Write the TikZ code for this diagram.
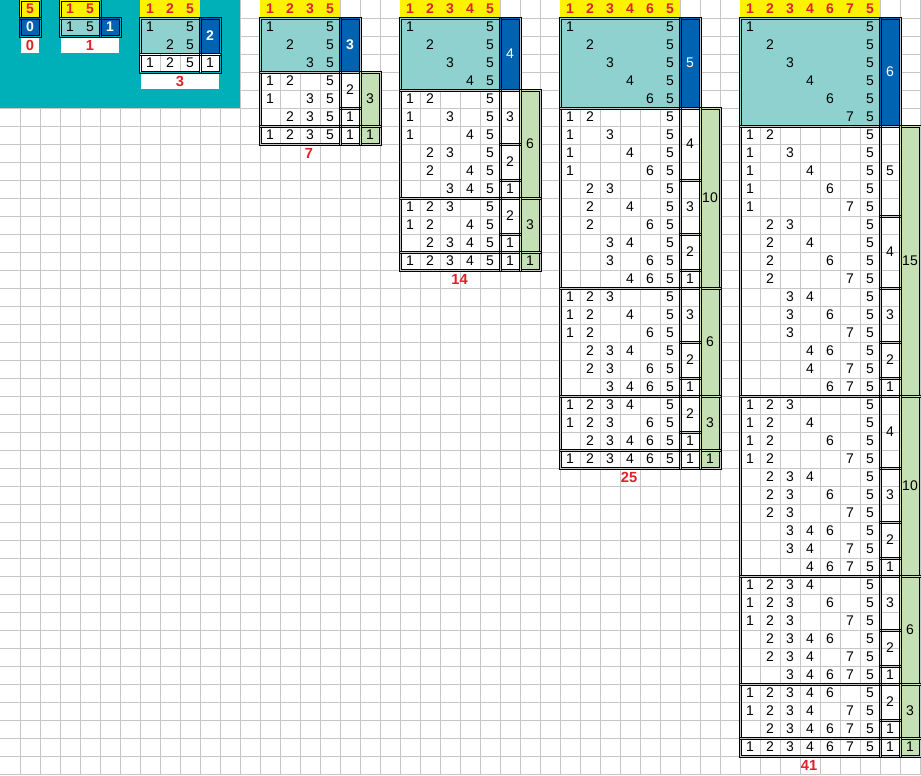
\documentclass[tikz,border=0pt]{standalone}
\usepackage{fontspec}
\setmainfont{Liberation Sans}
\usetikzlibrary{calc}
\definecolor{sheetteal}{RGB}{0,176,185}
\definecolor{cellteal}{RGB}{142,209,207}
\definecolor{cellblue}{RGB}{0,99,177}
\definecolor{cellyellow}{RGB}{255,242,0}
\definecolor{cellgreen}{RGB}{197,224,180}
\definecolor{numred}{RGB}{226,32,40}
\definecolor{gridgray}{RGB}{198,198,198}
\newcount\xlrow
% double black border round a block of cells
\newcommand\xlframe[2]{%
  \draw[xl frame] ($#1+(-0.8pt,0.8pt)$) rectangle ($#2+(0.8pt,-0.8pt)$);
  \draw[xl frame] ($#1+(0.8pt,-0.8pt)$) rectangle ($#2+(-0.8pt,0.8pt)$);}
% white label strip under the small blocks
\newcommand\xlnote[2]{\fill[white] ($#1+(0.75pt,-1.2pt)$) rectangle ($#2+(-0.75pt,0.9pt)$);}
\tikzset{
  xl sheet/.style={x=15pt, y=-13.5pt, font=\fontsize{10.5}{12}\selectfont},
  xl grid/.style={draw=gridgray, line width=0.6pt},
  xl frame/.style={draw=black, line width=0.6pt},
  xl v/.style={inner sep=0pt, text=black},
  xl hdr/.style={inner sep=0pt, text=numred, font=\fontsize{10.5}{12}\selectfont\bfseries},
  xl cnt/.style={inner sep=0pt, text=white, font=\fontsize{10.5}{12}\selectfont\bfseries},
  xl tot/.style={xl hdr, font=\fontsize{11}{12}\selectfont\bfseries},
}
\begin{document}
\begin{tikzpicture}[xl sheet]
\path[fill=white, use as bounding box] (0,0) rectangle (46.05,43.056);
% ---- sheet grid ----
\foreach \c in {1,...,46} \draw[xl grid] (\c,0) -- (\c,43.056);
\foreach \r in {1,...,43} \draw[xl grid] (0,\r) -- (46.05,\r);
\fill[sheetteal] (0,0) rectangle (12,6);
% ---- n = 1 ----
\fill[cellyellow] (1,0) rectangle (2,1);
\fill[cellblue] (1,1) rectangle (2,2);
\xlnote{(1,2)}{(2,3)}
\xlframe{(1,0)}{(2,1)} \xlframe{(1,1)}{(2,2)}
\node[xl hdr] (h0-1) at (1.5,0.5) {5};
\node[xl cnt] (b0) at (1.5,1.5) {0};
\node[xl tot] (t0) at (1.5,2.5) {0};
% ---- n = 2 ----
\fill[cellyellow] (3,0) rectangle (5,1);
\fill[cellteal] (3,1) rectangle (5,2);
\fill[cellblue] (5,1) rectangle (6,2);
\xlnote{(3,2)}{(6,3)}
\xlframe{(3,0)}{(5,1)} \xlframe{(3,1)}{(5,2)} \xlframe{(5,1)}{(6,2)}
\node[xl hdr] (h1-1) at (3.5,0.5) {1};  \node[xl hdr] (h1-5) at (4.5,0.5) {5};
\node[xl v] (s1-1) at (3.5,1.5) {1};    \node[xl v] (s1-5) at (4.5,1.5) {5};
\node[xl cnt] (b1) at (5.5,1.5) {1};
\node[xl tot] (t1) at (4.5,2.5) {1};
% ---- n = 3 ----
\fill[cellyellow] (7,0) rectangle (10,1);
\fill[cellteal] (7,1) rectangle (10,3);
\fill[cellblue] (10,1) rectangle (11,3);
\fill[white] (7,3) rectangle (11,4);
\draw[xl grid] (8,3) -- (8,4) (9,3) -- (9,4);
\xlnote{(7,4)}{(11,5)}
\xlframe{(7,1)}{(10,3)} \xlframe{(10,1)}{(11,3)}
\xlframe{(7,3)}{(10,4)} \xlframe{(10,3)}{(11,4)}
\node[xl hdr] (h2-1) at (7.5,0.5) {1}; \node[xl hdr] (h2-2) at (8.5,0.5) {2}; \node[xl hdr] (h2-5) at (9.5,0.5) {5};
\node[xl v] (s2-1) at (7.5,1.5) {1};   \node[xl v] (s2-1-5) at (9.5,1.5) {5};
\node[xl v] (s2-2) at (8.5,2.5) {2};   \node[xl v] (s2-2-5) at (9.5,2.5) {5};
\node[xl cnt] (b2) at (10.5,2) {2};
\node[xl v] (f2-1) at (7.5,3.5) {1}; \node[xl v] (f2-2) at (8.5,3.5) {2}; \node[xl v] (f2-5) at (9.5,3.5) {5};
\node[xl v] (c2) at (10.5,3.5) {1};
\node[xl tot] (t2) at (9,4.5) {3};
% ---- n = 4 ... 7 ----
\foreach \lc/\m/\tot/\tx/\bw in {13/3/7/15.45/\bfseries, 20/4/14/22.98/\mdseries,
                                 28/5/25/31.45/\mdseries, 37/6/41/40.45/\mdseries}{
  \pgfmathtruncatemacro\colF{\lc+\m}
  \pgfmathtruncatemacro\colC{\lc+\m+1}
  \pgfmathtruncatemacro\colG{\lc+\m+2}
  % header and one-element rows
  \fill[cellyellow] (\lc,0) rectangle (\colC,1);
  \fill[cellteal] (\lc,1) rectangle (\colC,\m+1);
  \fill[cellblue] (\colC,1) rectangle (\colG,\m+1);
  \xlframe{(\lc,1)}{(\colC,\m+1)}
  \xlframe{(\colC,1)}{(\colG,\m+1)}
  \node[xl cnt, font=\fontsize{10.5}{12}\selectfont\bw] (b\m) at (\colC+0.5,\m/2+1) {\m};
  \node[xl hdr] (h\m-5) at (\colF+0.5,0.5) {5};
  \foreach \p in {1,...,\m}{
    \pgfmathtruncatemacro\lab{\p<5 ? \p : \p+1}
    \node[xl hdr] (h\m-\p) at (\lc+\p-0.5,0.5) {\lab};
    \node[xl v] (s\m-\p) at (\lc+\p-0.5,\p+0.5) {\lab};
    \node[xl v] (s\m-\p-5) at (\colF+0.5,\p+0.5) {5};
  }
  % rows of k elements, grouped by their first element
  \global\xlrow=\m \global\advance\xlrow by 1
  \foreach \k in {2,...,\m}{
    \pgfmathtruncatemacro\nG{\m-\k+1}
    \pgfmathtruncatemacro\nT{\nG*(\nG+1)/2}
    \pgfmathtruncatemacro\rs{\the\xlrow}
    \fill[cellgreen] (\colG,\rs) rectangle (\colG+1,\rs+\nT);
    \xlframe{(\lc,\rs)}{(\colC,\rs+\nT)}
    \xlframe{(\colG,\rs)}{(\colG+1,\rs+\nT)}
    \node[xl v] (g\m-\k) at (\colG+0.5,\rs+\nT/2) {\nT};
    \foreach \s in {1,...,\nG}{
      \pgfmathtruncatemacro\ng{\nG-\s+1}
      \pgfmathtruncatemacro\rg{\the\xlrow}
      \pgfmathtruncatemacro\pe{\s+\k-2}
      \pgfmathtruncatemacro\ta{\s+\k-1}
      \xlframe{(\colC,\rg)}{(\colG,\rg+\ng)}
      \node[xl v] (c\m-\rg) at (\colC+0.5,\rg+\ng/2) {\ng};
      \foreach \t in {\ta,...,\m}{
        \pgfmathtruncatemacro\r{\the\xlrow}
        \foreach \p in {\s,...,\pe}{
          \pgfmathtruncatemacro\lab{\p<5 ? \p : \p+1}
          \node[xl v] (v\m-\r-\p) at (\lc+\p-0.5,\r+0.5) {\lab};
        }
        \pgfmathtruncatemacro\lab{\t<5 ? \t : \t+1}
        \node[xl v] (v\m-\r-\t) at (\lc+\t-0.5,\r+0.5) {\lab};
        \node[xl v] (v\m-\r-5) at (\colF+0.5,\r+0.5) {5};
        \global\advance\xlrow by 1
      }
    }
  }
  \pgfmathtruncatemacro\rt{\the\xlrow}
  \node[xl tot] (t\m) at (\tx,\rt+0.5) {\tot};
}
\end{tikzpicture}
\end{document}
